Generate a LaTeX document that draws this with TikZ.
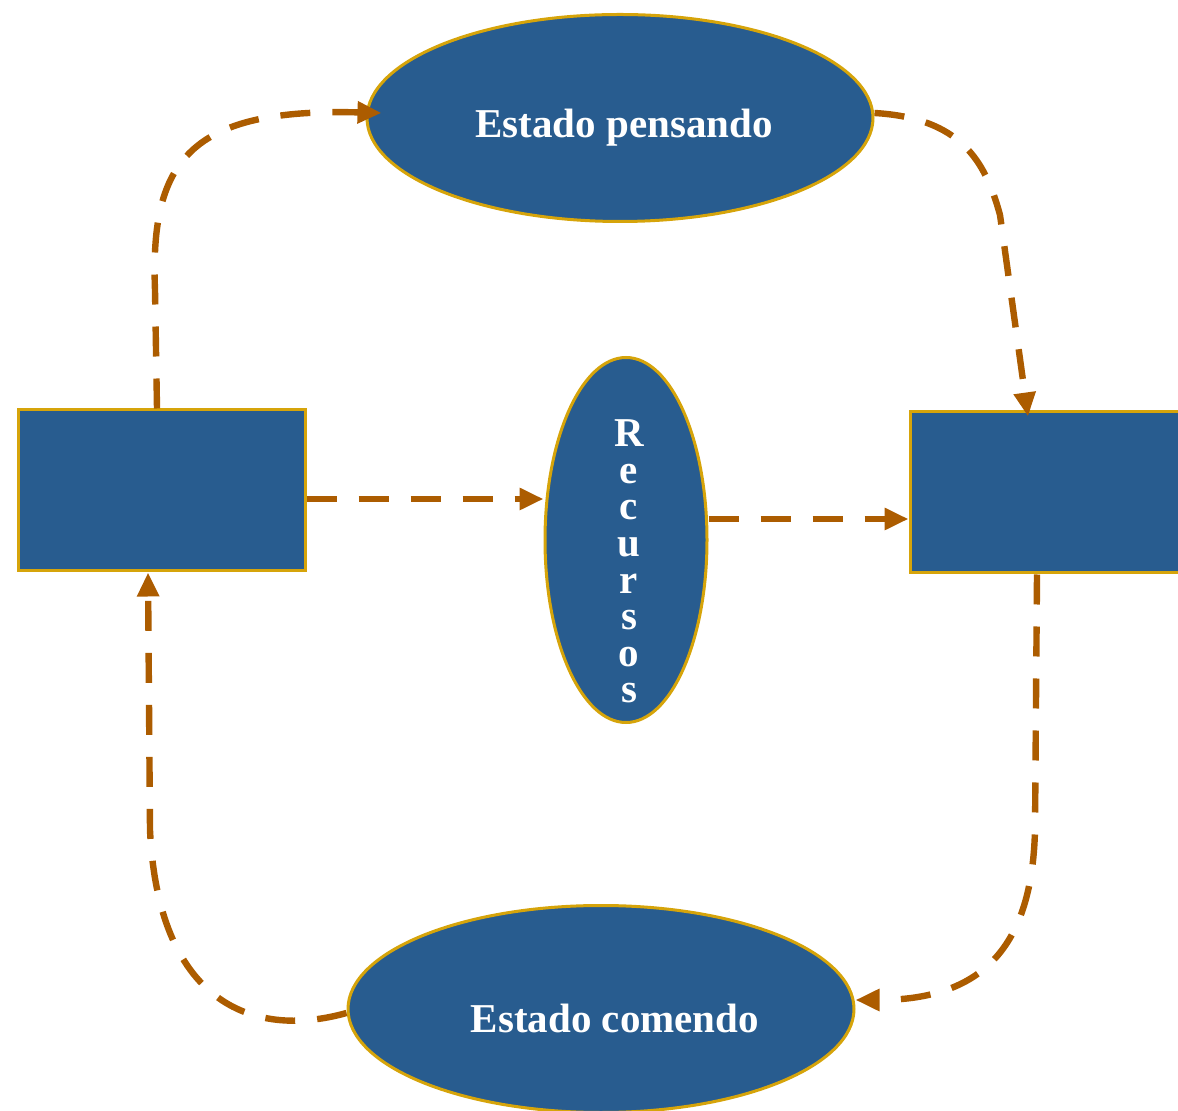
\documentclass[tikz,border=0pt]{standalone}
\usepackage{fontspec}
\setmainfont{Liberation Serif}
\usepackage{tikz}
\usetikzlibrary{shapes.geometric,arrows.meta}
\definecolor{azul}{RGB}{40,92,143}
\definecolor{oro}{RGB}{214,164,10}
\definecolor{cafe}{RGB}{172,92,0}

\begin{document}
\begin{tikzpicture}[x=0.5pt,y=-0.5pt,
    estado/.style={ellipse,fill=azul,draw=oro,line width=1.5pt,inner sep=0pt,
      minimum width=253pt,minimum height=103.5pt},
    caja/.style={rectangle,fill=azul,draw=oro,line width=1.5pt,inner sep=0pt,
      minimum width=143.5pt,minimum height=80.5pt},
    texto/.style={text=white,font=\fontsize{20.5}{18.3}\selectfont\bfseries,inner sep=0pt},
    flujo/.style={draw=cafe,line width=3.2pt,dash pattern=on 15pt off 11pt,
      -{Triangle[length=12pt,width=10.5pt]}}]
  \useasboundingbox (0,0) rectangle (1178,1111);
  \begin{scope}
    \clip (0,0) rectangle (1178,1111);
    \node[estado,label={[texto,xshift=2pt,yshift=-5pt]center:Estado pensando}] (E_pens) at (620,118) {};
    \node[estado,label={[texto,xshift=7pt,yshift=-4.5pt]center:Estado comendo}] (E_come) at (601,1009) {};
    \node[estado,minimum width=81pt,minimum height=182.5pt,
      label={[texto,align=center,xshift=1.5pt,yshift=-10.75pt]center:R\\e\\c\\u\\r\\s\\o\\s}] (Rec) at (626,540) {};
    \node[caja] (B_left) at (161.5,490.5) {};
    \node[caja] (B_right) at (1053.5,492.5) {};

    % ciclo
    \draw[flujo] ([xshift=-2.25pt]B_left.north) -- (155,290)
      .. controls (150,160) and (190,108) .. ([xshift=8pt,yshift=2.5pt]E_pens.west);
    \draw[flujo] ([yshift=2.5pt]E_pens.east) .. controls (960,118) and (985,160) .. (1000,215)
      -- ([xshift=-12.75pt,yshift=-3pt]B_right.north);
    \draw[flujo] ([xshift=-8.25pt]B_right.south) -- (1035,830)
      .. controls (1032,955) and (975,1000) .. ([yshift=4.5pt]E_come.east);
    \draw[flujo] ([yshift=-2pt]E_come.west) .. controls (250,1040) and (158,1000) .. (150,830)
      -- ([xshift=-6.75pt]B_left.south);

    % recursos
    \coordinate (L_in) at ([yshift=-4.25pt]B_left.east);
    \draw[flujo] (L_in) -- (L_in -| Rec.west);
    \coordinate (R_out) at ([yshift=10.5pt]Rec.east);
    \draw[flujo] (R_out) -- (R_out -| B_right.west);
  \end{scope}
\end{tikzpicture}
\end{document}
